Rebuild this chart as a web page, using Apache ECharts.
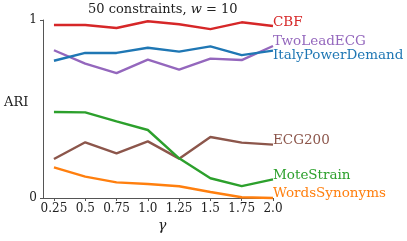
<!DOCTYPE html>
<html><head><meta charset="utf-8">
<script src="https://cdn.jsdelivr.net/npm/echarts@6/dist/echarts.min.js"></script>
<style>html,body{margin:0;padding:0;background:#fff}#c{width:407px;height:241px}</style>
</head><body><div id="c"></div>
<script>
const gammas = [0.25, 0.5, 0.75, 1.0, 1.25, 1.5, 1.75, 2.0];
const xTickLabels = ['0.25', '0.5', '0.75', '1.0', '1.25', '1.5', '1.75', '2.0'];
const yTickValues = [0, 1];
const yTickLabels = ['0', '1'];
const seriesNames = ['CBF', 'TwoLeadECG', 'ItalyPowerDemand', 'ECG200', 'MoteStrain', 'WordsSynonyms'];
const CBF = [0.972, 0.972, 0.955, 0.993, 0.976, 0.949, 0.987, 0.966];
const TwoLeadECG = [0.830, 0.755, 0.702, 0.777, 0.721, 0.783, 0.775, 0.854];
const ItalyPowerDemand = [0.771, 0.815, 0.815, 0.844, 0.822, 0.852, 0.803, 0.828];
const ECG200 = [0.219, 0.313, 0.251, 0.318, 0.221, 0.343, 0.311, 0.300];
const MoteStrain = [0.483, 0.481, 0.431, 0.382, 0.223, 0.111, 0.067, 0.105];
const WordsSynonyms = [0.172, 0.120, 0.088, 0.079, 0.066, 0.034, 0.004, 0.0];
const values = [CBF, TwoLeadECG, ItalyPowerDemand, ECG200, MoteStrain, WordsSynonyms];
const colors = ['#d62728', '#9467bd', '#1f77b4', '#8c564b', '#2ca02c', '#ff7f0e'];
const labelDy = [-4, -4.5, 4.5, -4.5, -4, -4.5];

const FONT = 'DejaVu Serif';
const chart = echarts.init(document.getElementById('c'), null, {renderer: 'canvas'});
chart.setOption({
  animation: false,
  backgroundColor: '#fff',
  grid: {left: 43, right: 134, top: 20, bottom: 43},
  xAxis: {
    type: 'value', min: 0.1625, max: 2.0,
    splitLine: {show: false},
    axisLine: {lineStyle: {color: '#555', width: 1}},
    axisTick: {show: true, length: 3, customValues: gammas, lineStyle: {color: '#555'}},
    axisLabel: {
      customValues: gammas, margin: 5, color: '#222', fontFamily: FONT, fontSize: 12,
      formatter: v => { const i = gammas.findIndex(g => Math.abs(g - v) < 1e-6); return i >= 0 ? xTickLabels[i] : ''; }
    }
  },
  yAxis: {
    type: 'value', min: 0, max: 1,
    splitLine: {show: false},
    axisLine: {show: true, lineStyle: {color: '#555', width: 1}},
    axisTick: {show: true, length: 3, customValues: yTickValues, lineStyle: {color: '#555'}},
    axisLabel: {
      customValues: yTickValues, margin: 6, color: '#222', fontFamily: FONT, fontSize: 12,
      formatter: v => { const i = yTickValues.indexOf(v); return i >= 0 ? yTickLabels[i] : ''; }
    }
  },
  graphic: [
    {type: 'text', left: 88, top: 3, style: {
      text: '{a|50 constraints, }{b|w}{a| = 10}',
      rich: {a: {fontFamily: FONT, fontSize: 13, fill: '#222'}, b: {fontFamily: FONT, fontSize: 13, fontStyle: 'italic', fill: '#222'}}
    }},
    {type: 'text', left: 4, top: 96, style: {text: 'ARI', fontFamily: FONT, fontSize: 13, fill: '#222'}},
    {type: 'text', left: 158, top: 219, style: {text: 'γ', fontFamily: FONT, fontSize: 14, fontStyle: 'italic', fill: '#222'}}
  ],
  series: seriesNames.map((name, k) => ({
    name: name, type: 'line',
    data: gammas.map((g, i) => [g, values[k][i]]),
    showSymbol: false, symbol: 'none',
    lineStyle: {color: colors[k], width: 2.4},
    itemStyle: {color: colors[k]},
    clip: false,
    endLabel: {
      show: true, formatter: name, color: colors[k], fontFamily: FONT, fontSize: 13.5,
      distance: 0, offset: [0, labelDy[k]]
    }
  }))
});
</script></body></html>
